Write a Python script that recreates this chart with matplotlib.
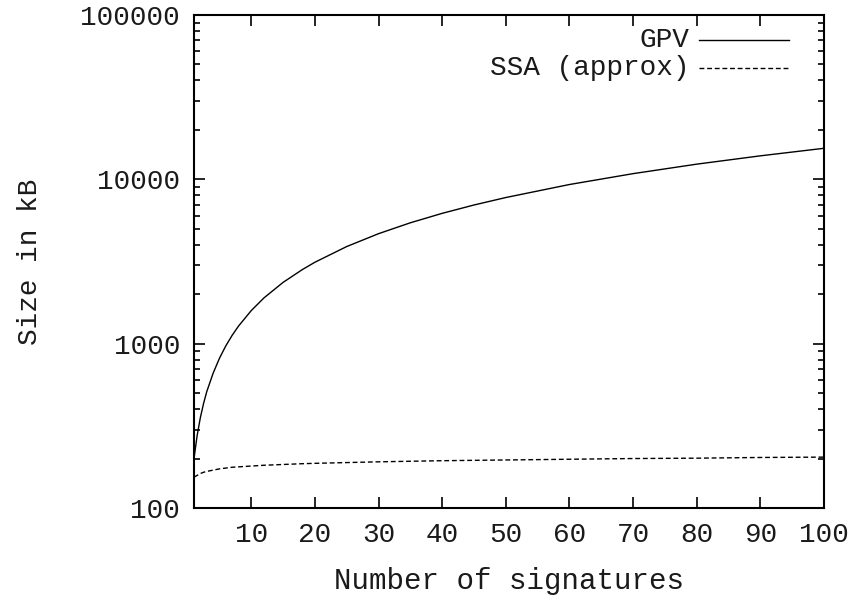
import matplotlib
matplotlib.use("Agg")
import matplotlib.pyplot as plt
from matplotlib.ticker import LogLocator, FixedLocator, NullFormatter

# values
signatures = [1, 1.5, 2, 2.5, 3, 4, 5, 6, 7, 8, 10, 12, 15, 18, 20, 25, 30,
              35, 40, 45, 50, 60, 70, 80, 90, 100]
gpv_kb = [200, 277, 355, 432, 510, 660, 815, 970, 1125, 1280, 1590, 1900,
          2360, 2820, 3130, 3900, 4670, 5440, 6210, 6980, 7750, 9300, 10830,
          12370, 13900, 15450]
ssa_kb = [154, 158, 162, 165, 167, 170, 173, 175, 177, 178, 180, 182, 184,
          186, 187, 189, 191, 192.5, 194, 195, 196, 198, 200, 201, 203, 204]
x_ticks = [10, 20, 30, 40, 50, 60, 70, 80, 90, 100]
y_ticks = [100, 1000, 10000, 100000]

plt.rcParams['font.family'] = ['Liberation Mono', 'DejaVu Sans Mono']
fs = 20
ink = '#1a1a1a'

fig = plt.figure(figsize=(8.61, 6.01), dpi=100)
ax = fig.add_axes([194 / 861, 1 - 508 / 601, 630 / 861, 493 / 601])

ax.plot(signatures, gpv_kb, color='black', lw=1.0)
ax.plot(signatures, ssa_kb, color='black', lw=1.0, dashes=(3.5, 2))

ax.set_yscale('log')
ax.set_xlim(1, 100)
ax.set_ylim(100, 100000)

ax.xaxis.set_major_locator(FixedLocator(x_ticks))
ax.yaxis.set_major_locator(FixedLocator(y_ticks))
ax.yaxis.set_minor_locator(LogLocator(base=10, subs=range(2, 10)))
ax.yaxis.set_minor_formatter(NullFormatter())
ax.set_yticklabels([str(v) for v in y_ticks])
ax.set_xticklabels([str(v) for v in x_ticks])

ax.tick_params(which='both', direction='in', top=True, right=True,
               labelsize=fs, color='black', labelcolor=ink, width=1.2)
ax.tick_params(which='major', length=8, pad=10)
ax.tick_params(which='minor', length=4)
for s in ax.spines.values():
    s.set_linewidth(1.5)

ax.set_xlabel('Number of signatures', fontsize=21, labelpad=14, color=ink)
ax.set_ylabel('Size in kB', fontsize=fs, labelpad=27, color=ink)

# gnuplot-style key: right-aligned text followed by sample line
key = [('GPV', None), ('SSA (approx)', (3.5, 2))]
for i, (label, dash) in enumerate(key):
    yk = 0.949 - i * 0.0568
    ax.text(0.787, yk, label, transform=ax.transAxes, ha='right', va='center',
            fontsize=fs, color=ink)
    line, = ax.plot([0.8016, 0.9444], [yk, yk], transform=ax.transAxes,
                    color='black', lw=1.0)
    if dash:
        line.set_dashes(dash)

fig.savefig('out.png', dpi=100)
